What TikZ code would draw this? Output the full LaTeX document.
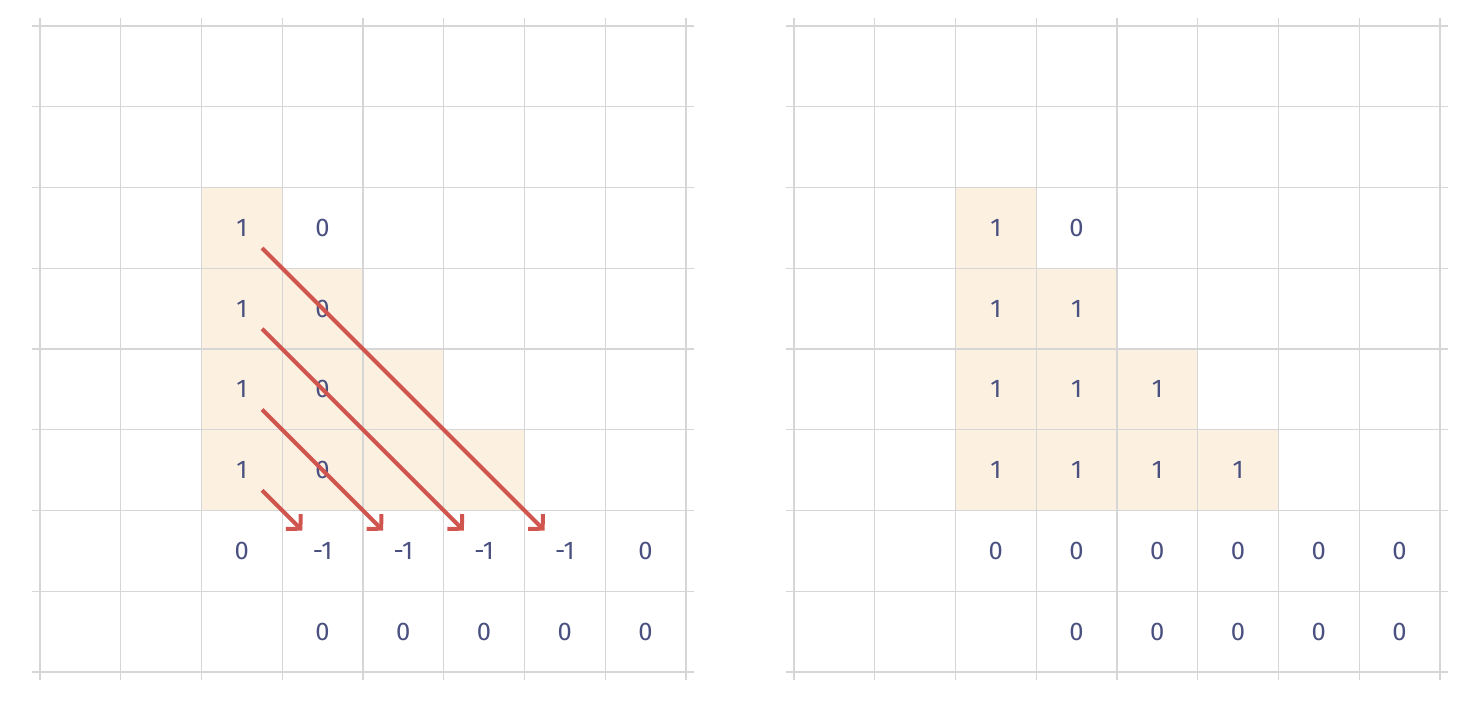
\documentclass[tikz,border=0pt]{standalone}
\usepackage{fontspec}
\setmainfont{Fira Sans}
\usetikzlibrary{arrows.meta}
\definecolor{gridc}{HTML}{D6D6D6}
\definecolor{fillc}{HTML}{FCF0E0}
\definecolor{txtc}{HTML}{4A5080}
\definecolor{arrc}{HTML}{D1554F}
\tikzset{
  gridline/.style={draw=gridc,line width=0.45pt},
  shade/.style={fill=fillc,draw=none},
  num/.style={text=txtc,font=\fontsize{9}{10}\selectfont,inner sep=0pt},
  diag/.style={draw=arrc,line width=1.4pt,-{Straight Barb[length=3.6pt,width=7.4pt,line width=1.4pt]}}
}
\begin{document}
\begin{tikzpicture}
\useasboundingbox (-0.495,-0.396) rectangle (17.734,8.322);
\foreach \ox/\nm in {0/L,9.337/R}{
  \begin{scope}[xshift=\ox cm]
    % shaded cells
    \fill[fillc] (2,2) rectangle (3,6);
    \fill[fillc] (3,2) rectangle (4,5);
    \fill[fillc] (4,2) rectangle (5,4);
    \fill[fillc] (5,2) rectangle (6,3);
    % grid
    \foreach \i in {0,...,8}{
      \draw[gridline] (\i,-0.1) -- (\i,8.1);
      \draw[gridline] (-0.1,\i) -- (8.1,\i);
    }
    % bottom rows
    \foreach \c in {3,...,7}{\node[num] (\nm b\c) at (\c+0.5,0.5) {0};}
    \foreach \r in {2,...,5}{\node[num] (\nm a\r) at (2.5,\r+0.5) {1};}
    \node[num] (\nm c5) at (3.5,5.5) {0};
  \end{scope}
}
% left specific
\foreach \r in {2,3,4}{\node[num] (Ld\r) at (3.5,\r+0.5) {0};}
\node[num] (Lr2) at (2.5,1.5) {0};
\foreach \c in {3,...,6}{\node[num] (Lr\c) at (\c+0.5,1.5) {-1};}
\node[num] (Lr7) at (7.5,1.5) {0};
% right specific
\begin{scope}[xshift=9.337cm]
  \foreach \r in {2,3,4}{\node[num] (Rd\r) at (3.5,\r+0.5) {1};}
  \foreach \r in {2,3}{\node[num] (Re\r) at (4.5,\r+0.5) {1};}
  \node[num] (Rf2) at (5.5,2.5) {1};
  \foreach \c in {2,...,7}{\node[num] (Rr\c) at (\c+0.5,1.5) {0};}
\end{scope}
% arrows
\coordinate (s1) at (2.75,2.25); \coordinate (e1) at (3.25,1.75);
\coordinate (s2) at (2.75,3.25); \coordinate (e2) at (4.25,1.75);
\coordinate (s3) at (2.75,4.25); \coordinate (e3) at (5.25,1.75);
\coordinate (s4) at (2.75,5.25); \coordinate (e4) at (6.25,1.75);
\foreach \k in {1,...,4}{\draw[diag] (s\k) -- (e\k);}
\end{tikzpicture}
\end{document}
